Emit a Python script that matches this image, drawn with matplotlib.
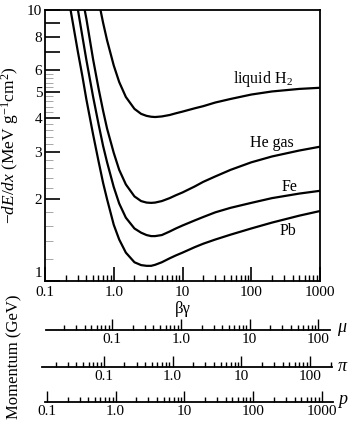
import numpy as np
import matplotlib
matplotlib.use('Agg')
import matplotlib.pyplot as plt
import matplotlib.transforms as mtransforms
from matplotlib.ticker import NullFormatter

plt.rcParams['font.family'] = ['Liberation Serif', 'DejaVu Serif']
plt.rcParams['mathtext.fontset'] = 'custom'
plt.rcParams['mathtext.rm'] = 'Liberation Serif'
plt.rcParams['mathtext.it'] = 'Liberation Serif:italic'

# beta*gamma grid and -dE/dx (MeV g^-1 cm^2)
bg = [0.2, 0.25, 0.3, 0.35, 0.4, 0.5, 0.6, 0.7, 0.8, 1.0, 1.2, 1.5, 2.0, 2.5,
      3.0, 3.5, 4.0, 5.0, 6.5, 8.0, 10, 15, 20, 30, 50, 100, 200, 500, 1000]
h2 = [np.nan, np.nan, np.nan, np.nan, np.nan, 13.9, 10.9, 8.99, 7.74, 6.25, 5.43, 4.78, 4.32, 4.14,
      4.07, 4.04, 4.03, 4.05, 4.10, 4.16, 4.22, 4.34, 4.42, 4.56, 4.70, 4.88, 5.01, 5.12, 5.17]
he = [np.nan, np.nan, 14.1, 11.1, 9.3, 6.6, 5.15, 4.25, 3.65, 2.97, 2.57, 2.27, 2.05, 1.97,
      1.945, 1.94, 1.945, 1.97, 2.02, 2.07, 2.12, 2.23, 2.32, 2.43, 2.57, 2.74, 2.88, 3.03, 3.13]
fe = [np.nan, 13.0, 10.1, 8.0, 6.55, 4.8, 3.8, 3.15, 2.74, 2.22, 1.93, 1.71, 1.56, 1.505,
      1.475, 1.462, 1.462, 1.475, 1.52, 1.56, 1.60, 1.67, 1.72, 1.79, 1.86, 1.94, 2.02, 2.10, 2.15]
pb = [12.7, 9.2, 7.05, 5.7, 4.68, 3.48, 2.77, 2.3, 2.0, 1.61, 1.42, 1.27, 1.17, 1.142,
      1.135, 1.135, 1.145, 1.17, 1.21, 1.24, 1.27, 1.33, 1.37, 1.42, 1.48, 1.56, 1.64, 1.74, 1.81]

curve_names = ['liquid H$_2$', 'He gas', 'Fe', 'Pb']
name_pos = [(54, 5.57), (96, 3.23), (277, 2.23), (262, 1.53)]

x_ticks = [0.1, 1, 10, 100, 1000]
x_ticklabels = ['0.1', '1.0', '10', '100', '1000']
y_ticks = [1, 2, 3, 4, 5, 6, 7, 8, 9, 10]
y_ticklabels = ['1', '2', '3', '4', '5', '6', '', '8', '', '10']

# momentum scales: particle, mass (GeV), labels
particles = ['$\\mu$', '$\\pi$', '$p$']
masses = [0.10566, 0.13957, 0.93827]
p_ticks = [0.1, 1, 10, 100, 1000]
p_ticklabels = ['0.1', '1.0', '10', '100', '1000']

W, H = 349, 426
fig = plt.figure(figsize=(W / 100, H / 100), dpi=100)
ax_l, ax_r, ax_t, ax_b = 45, 320, 10.3, 280.7
ax = fig.add_axes([ax_l / W, 1 - ax_b / H, (ax_r - ax_l) / W, (ax_b - ax_t) / H])

for vals in (h2, he, fe, pb):
    ax.plot(bg, vals, color='k', lw=1.6)

ax.set_xscale('log')
ax.set_yscale('log')
ax.set_xlim(0.1, 1000)
ax.set_ylim(1, 10)

ax.set_xticks(x_ticks)
ax.set_xticklabels(x_ticklabels)
ax.set_xticks([d * k for d in (0.1, 1, 10, 100) for k in range(2, 10)], minor=True)
ax.set_yticks(y_ticks)
ax.set_yticklabels(y_ticklabels)
ax.set_yticks([v for v in np.arange(1.2, 6.0, 0.2) if abs(v - round(v)) > 0.05], minor=True)
ax.xaxis.set_minor_formatter(NullFormatter())
ax.yaxis.set_minor_formatter(NullFormatter())

ax.tick_params(axis='x', which='major', direction='in', length=10, width=1.2, labelsize=11, pad=4)
ax.tick_params(axis='x', which='minor', direction='in', length=4, width=1.0)
ax.tick_params(axis='y', which='major', direction='in', length=11, width=1.2, labelsize=11, pad=2)
ax.tick_params(axis='y', which='minor', direction='in', length=6, width=0.6, color='#999999')
for s in ax.spines.values():
    s.set_linewidth(1.3)

# the "1" label sits a little above its tick, clear of the 0.1 below it
lab1 = ax.get_yticklabels()[0]
lab1.set_transform(lab1.get_transform() + mtransforms.ScaledTranslation(0, 6 / 72, fig.dpi_scale_trans))

ax.set_xlabel('βγ', fontsize=12, labelpad=1)
ax.set_ylabel('$-dE/dx$ (MeV g$^{-1}$cm$^2$)', fontsize=12.5, labelpad=4)

for name, (x, y) in zip(curve_names, name_pos):
    ax.text(x, y, name, fontsize=11.5, va='center', ha='left')

# momentum axes
dec = (ax_r - ax_l) / 4.0
line_y = [330, 367.3, 402]
line_x = [(46, 330), (42, 332), (44.5, 333)]
for lab, m, yy, (xl, xr) in zip(particles, masses, line_y, line_x):
    pax = fig.add_axes([xl / W, 1 - yy / H, (xr - xl) / W, 0.0001])
    pax.set_xscale('log')
    lo = m * 0.1 * 10 ** ((xl - ax_l) / dec)
    hi = m * 0.1 * 10 ** ((xr - ax_l) / dec)
    pax.set_xlim(lo, hi)
    maj = [t for t in p_ticks if lo * 0.999 <= t <= hi]
    pax.set_xticks(maj)
    pax.set_xticklabels([p_ticklabels[p_ticks.index(t)] for t in maj])
    mins = [d * k for d in (0.01, 0.1, 1, 10, 100) for k in range(2, 10) if lo <= d * k <= hi]
    pax.set_xticks(mins, minor=True)
    pax.xaxis.set_minor_formatter(NullFormatter())
    pax.set_yticks([])
    pax.patch.set_visible(False)
    for side in ('left', 'right', 'top'):
        pax.spines[side].set_visible(False)
    pax.spines['bottom'].set_linewidth(1.3)
    pax.tick_params(axis='x', which='major', direction='in', length=8, width=1.0, labelsize=11, pad=2)
    pax.tick_params(axis='x', which='minor', direction='in', length=3.5, width=1.0)
    fig.text(337 / W, 1 - (yy - 1) / H, lab, fontsize=13, va='center', ha='left')

fig.text(14 / W, 1 - 357 / H, 'Momentum (GeV)', rotation=90, fontsize=12, va='center', ha='center')

fig.savefig('out.png', dpi=100)
